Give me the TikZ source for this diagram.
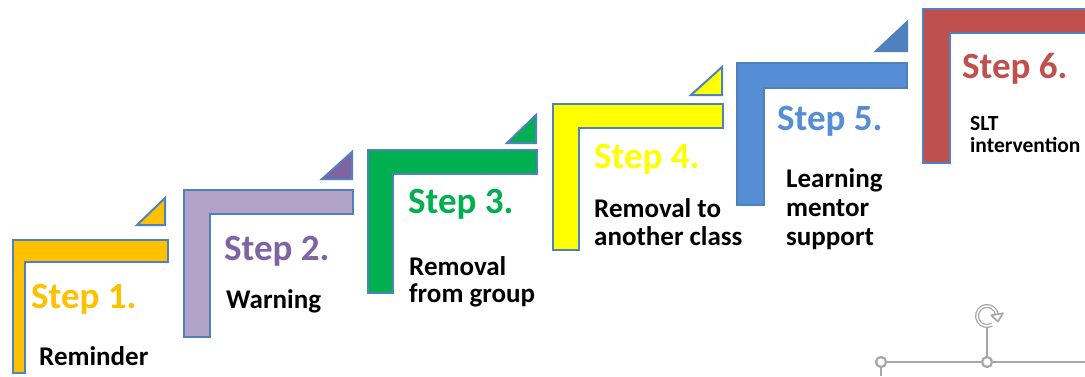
\documentclass[tikz,border=0pt]{standalone}
\usepackage{fontspec}
\setmainfont{Carlito}
\definecolor{edgeblue}{HTML}{4F81BD}
\definecolor{cgold}{HTML}{FFC000}
\definecolor{clav}{HTML}{B3A2C7}
\definecolor{cpurple}{HTML}{8064A2}
\definecolor{cgreen}{HTML}{00B050}
\definecolor{cyellow}{HTML}{FFFF00}
\definecolor{cblue}{HTML}{558ED5}
\definecolor{cred}{HTML}{C0504D}
\definecolor{handle}{HTML}{A6A6A6}
\tikzset{
  stepshape/.style={draw=edgeblue, line width=2pt, line join=miter},
  tri/.style={draw=edgeblue, line width=2pt, line join=miter},
  steplabel/.style={anchor=base west, inner sep=0pt, font=\fontsize{37}{40}\selectfont\bfseries},
  desc/.style={anchor=base west, inner sep=0pt, font=\fontsize{27}{30}\selectfont\bfseries, text=black},
  descsmall/.style={anchor=base west, inner sep=0pt, font=\fontsize{21.5}{23}\selectfont\bfseries, text=black},
  handleline/.style={draw=handle, line width=1.2pt},
  handlecirc/.style={circle, draw=handle, line width=2.2pt, fill=white, minimum size=10pt, inner sep=0pt},
}
\begin{document}
\begin{tikzpicture}[x=1pt,y=-1pt]
\useasboundingbox (0,0) rectangle (1085,376);
\clip (0,0) rectangle (1085,376);
% Step 1
\path[stepshape, fill=cgold] (13,240) -- (168,240) -- (168,262) -- (25,262) -- (25,373) -- (13,373) -- cycle;
\path[tri, fill=cgold] (165,198) -- (165,225) -- (137,225) -- cycle;
% Step 2
\path[stepshape, fill=clav] (184,190) -- (353,190) -- (353,214) -- (210,214) -- (210,337) -- (184,337) -- cycle;
\path[tri, fill=cpurple] (352,152) -- (352,179) -- (322,179) -- cycle;
% Step 3
\path[stepshape, fill=cgreen] (368,150) -- (537,150) -- (537,174) -- (393,174) -- (393,293) -- (368,293) -- cycle;
\path[tri, fill=cgreen] (536,115) -- (536,143) -- (507,143) -- cycle;
% Step 4
\path[stepshape, fill=cyellow] (553,104) -- (723,104) -- (723,128) -- (579,128) -- (579,250) -- (553,250) -- cycle;
\path[tri, fill=cyellow] (722,67) -- (722,95) -- (691,95) -- cycle;
% Step 5
\path[stepshape, fill=cblue] (737,63) -- (907,63) -- (907,88) -- (764,88) -- (764,205) -- (737,205) -- cycle;
\path[tri, fill=edgeblue] (907,22) -- (907,51) -- (876,51) -- cycle;
% Step 6
\path[stepshape, fill=cred] (923,9) -- (1100,9) -- (1100,33) -- (950,33) -- (950,163) -- (923,163) -- cycle;
% labels
\node[steplabel, text=cgold] (s1) at (31,308) {Step 1.};
\node[desc] (d1) at (39,365) {Reminder};
\node[steplabel, text=cpurple] (s2) at (224,260) {Step 2.};
\node[desc] (d2) at (226,308) {Warning};
\node[steplabel, text=cgreen] (s3) at (408,213) {Step 3.};
\node[desc] (d3a) at (409,275) {Removal};
\node[desc] (d3b) at (409,302) {from group};
\node[steplabel, text=cyellow] (s4) at (594,168) {Step 4.};
\node[desc] (d4a) at (594,217) {Removal to};
\node[desc] (d4b) at (594,245) {another class};
\node[steplabel, text=cblue] (s5) at (777,130) {Step 5.};
\node[desc] (d5a) at (786,187) {Learning};
\node[desc] (d5b) at (786,216) {mentor};
\node[desc] (d5c) at (786,245) {support};
\node[steplabel, text=cred] (s6) at (962,78) {Step 6.};
\node[descsmall] (d6a) at (970,130) {SLT};
\node[descsmall] (d6b) at (970,152) {intervention};
% selection handles
\coordinate (hend) at (1085,362);
\coordinate (hdown) at (881,376);
\coordinate (rotbase) at (987,328);
\draw[handleline] (881,362) -- (hend);
\draw[handleline] (881,362) -- (hdown);
\draw[handleline] (987,362) -- (rotbase);
\node[handlecirc] (h1) at (881,362) {};
\node[handlecirc] (h2) at (987,362) {};
\begin{scope}[shift={(987,316)}, x=1pt, y=1pt]
  \draw[handle, line width=4pt] (300:10) arc[start angle=300, end angle=10, radius=10];
  \draw[white, line width=1.5pt] (300:10) arc[start angle=300, end angle=10, radius=10];
  \draw[handle, fill=white, line width=1.6pt, line join=round] (11,-5.5) -- (16,2.8) -- (4.2,0.7) -- cycle;
\end{scope}
\end{tikzpicture}
\end{document}
